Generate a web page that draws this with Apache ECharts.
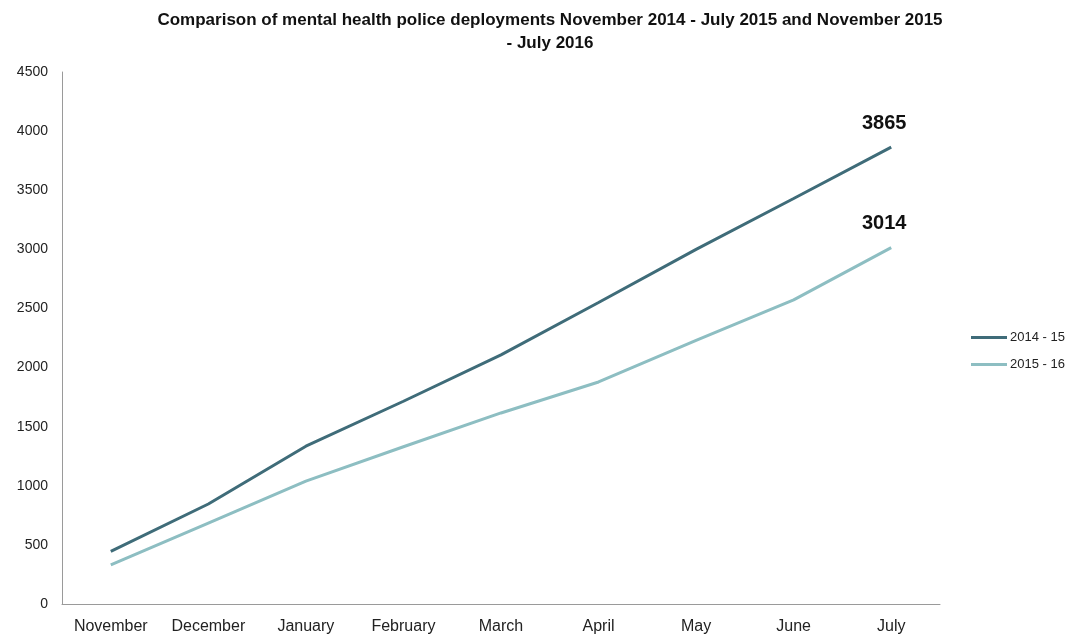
<!DOCTYPE html>
<html>
<head>
<meta charset="utf-8">
<script src="https://cdn.jsdelivr.net/npm/echarts@6/dist/echarts.min.js"></script>
<style>
  html, body { margin: 0; padding: 0; background: #fff; }
  #chart { width: 1077px; height: 637px; }
</style>
</head>
<body>
<div id="chart"></div>
<script>
// Monthly cumulative mental health police deployments
const months = ['November', 'December', 'January', 'February', 'March', 'April', 'May', 'June', 'July'];
const deployments2014 = [445, 846, 1335, 1715, 2107, 2550, 3000, 3430, 3865];
const deployments2015 = [330, 685, 1040, 1330, 1616, 1878, 2230, 2572, 3014];
const seriesNames = ['2014 - 15', '2015 - 16'];
const seriesColors = ['#3f6c79', '#8dbec2'];

const font = '"Liberation Sans", Arial, sans-serif';

// Only the final month carries a value label
function endLabel(values) {
  return values.map((v, i) => i === values.length - 1
    ? { value: v, label: { show: true, position: 'top', distance: 14, offset: [-7, 0], fontSize: 20, fontWeight: 'bold', color: '#111', fontFamily: font, formatter: '{c}' } }
    : v);
}

const chart = echarts.init(document.getElementById('chart'), null, { renderer: 'canvas' });
chart.setOption({
  animation: false,
  backgroundColor: '#fff',
  title: {
    text: 'Comparison of mental health police deployments November 2014 - July 2015 and November 2015\n- July 2016',
    left: 545,
    textAlign: 'center',
    top: 4,
    textStyle: { fontFamily: font, fontSize: 17, fontWeight: 'bold', color: '#111', lineHeight: 23 }
  },
  legend: {
    orient: 'vertical',
    left: 966,
    top: 326,
    icon: 'rect',
    itemWidth: 36,
    itemHeight: 3,
    itemGap: 14,
    textStyle: { fontFamily: font, fontSize: 13, color: '#222', padding: [0, 0, 0, -2] },
    data: seriesNames
  },
  grid: { left: 62, right: 137, top: 72, bottom: 33, containLabel: false },
  xAxis: {
    type: 'category',
    data: months,
    boundaryGap: true,
    axisLine: { lineStyle: { color: '#9a9a9a', width: 1 } },
    axisTick: { show: false },
    axisLabel: { fontFamily: font, fontSize: 16, color: '#222', margin: 15 }
  },
  yAxis: {
    type: 'value',
    min: 0,
    max: 4500,
    interval: 500,
    axisLine: { show: true, lineStyle: { color: '#9a9a9a', width: 1 } },
    axisTick: { show: false },
    splitLine: { show: false },
    axisLabel: { fontFamily: font, fontSize: 14, color: '#222', margin: 14, formatter: v => String(v) }
  },
  series: [
    {
      name: seriesNames[0],
      type: 'line',
      data: endLabel(deployments2014),
      symbol: 'circle',
      showSymbol: true,
      symbolSize: 0,
      lineStyle: { color: seriesColors[0], width: 3 },
      itemStyle: { color: seriesColors[0] }
    },
    {
      name: seriesNames[1],
      type: 'line',
      data: endLabel(deployments2015),
      symbol: 'circle',
      showSymbol: true,
      symbolSize: 0,
      lineStyle: { color: seriesColors[1], width: 3 },
      itemStyle: { color: seriesColors[1] }
    }
  ]
});
</script>
</body>
</html>
